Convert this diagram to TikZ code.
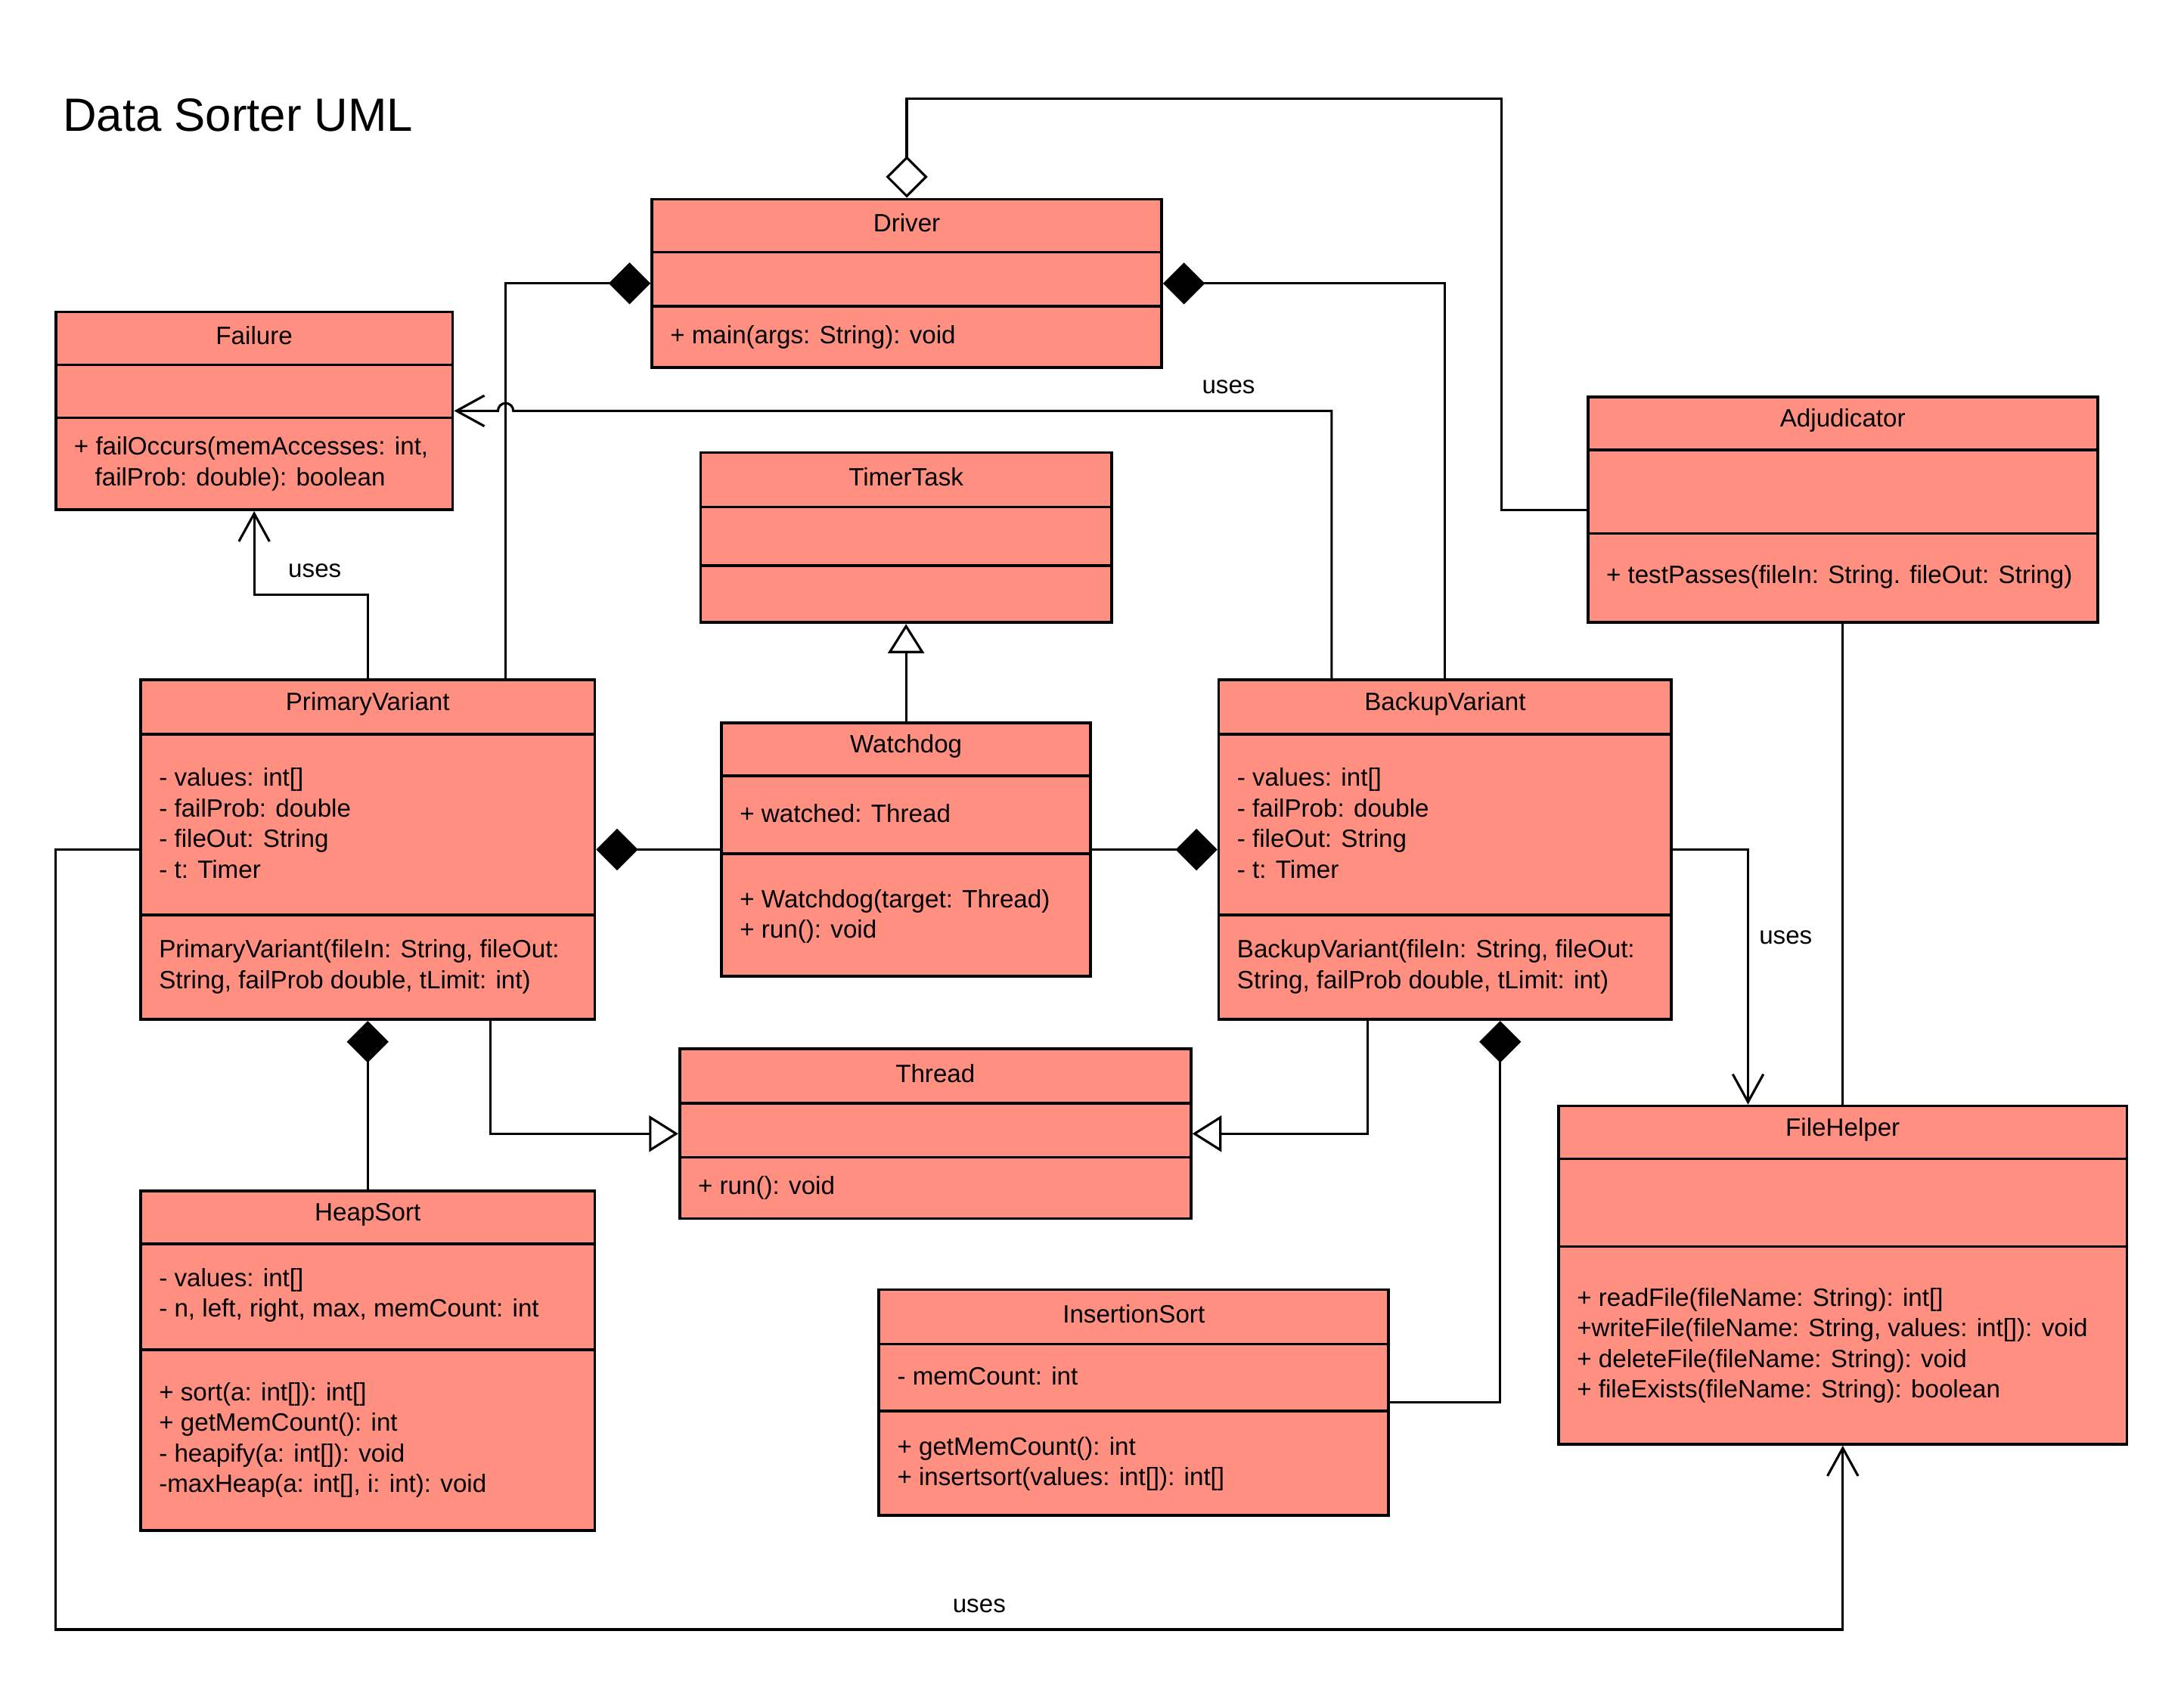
\documentclass[tikz,border=0pt]{standalone}
\usepackage{fontspec}
\setmainfont{Liberation Sans}
\usetikzlibrary{arrows.meta}
\definecolor{classfill}{RGB}{255,143,128}
\tikzset{
  classbox/.style={draw=black, line width=2pt, fill=classfill, rectangle, inner sep=0pt},
  divider/.style={draw=black, line width=2pt},
  conn/.style={draw=black, line width=1.7pt},
  composition/.style={conn, -{Diamond[length=30pt,width=30pt,fill=black]}},
  aggregation/.style={conn, -{Diamond[length=30pt,width=30pt,open,fill=white]}},
  inherit/.style={conn, -{Triangle[length=21pt,width=26pt,open,fill=white]}},
  uses/.style={conn, -{Straight Barb[length=20pt,width=22pt]}},
  bodyfont/.style={font=\fontsize{18}{22}\selectfont},
  classname/.style={bodyfont, inner sep=0pt},
  members/.style={bodyfont, inner sep=0pt, anchor=west, align=left},
  uselabel/.style={bodyfont, inner sep=0pt},
}
% \umlclass{name}{left}{top}{right}{bottom}{divider 1}{divider 2}{class name}
\newcommand\umlclass[8]{%
  \node[classbox, minimum width={#4-#2}, minimum height={#5-#3}] (#1) at ({(#2+#4)/2},{(#3+#5)/2}) {};
  \draw[divider] (#2,#6) -- (#4,#6) (#2,#7) -- (#4,#7);
  \node[classname] (#1-name) at ({(#2+#4)/2},{(#3+#6)/2-2}) {#8};
}
\begin{document}
\begin{tikzpicture}[x=1pt,y=-1pt]
\fill[white] (0,0) rectangle (1568,1211);
\useasboundingbox (0,0) rectangle (1568,1211);

\node[font=\fontsize{33.5}{40}\selectfont, inner sep=0pt, anchor=base west] (title) at (45,94) {Data Sorter UML};

% classes
\umlclass{drv}{468}{143}{834}{264}{181}{220}{Driver}
\node[members] (drv-ops) at (481,242) {+ main(args: String): void};

\umlclass{fail}{40}{224}{325}{366}{262}{300}{Failure}
\node[members] (fail-ops) at (53,333) {+ failOccurs(memAccesses: int,\\\hspace*{15pt}failProb: double): boolean};

\umlclass{tt}{503}{325}{798}{447}{364}{406}{TimerTask}

\umlclass{adj}{1140}{285}{1506}{447}{323}{383}{Adjudicator}
\node[members] (adj-ops) at (1153,414) {+ testPasses(fileIn: String. fileOut: String)};

\umlclass{pv}{101}{488}{427}{732}{527}{657}{PrimaryVariant}
\node[members] (pv-attr) at (114,591) {- values: int[]\\- failProb: double\\- fileOut: String\\- t: Timer};
\node[members] (pv-ops) at (114,694) {PrimaryVariant(fileIn: String, fileOut:\\String, failProb double, tLimit: int)};

\umlclass{wd}{518}{519}{783}{701}{557}{613}{Watchdog}
\node[members] (wd-attr) at (531,584) {+ watched: Thread};
\node[members] (wd-ops) at (531,658) {+ Watchdog(target: Thread)\\+ run(): void};

\umlclass{bv}{875}{488}{1200}{732}{527}{657}{BackupVariant}
\node[members] (bv-attr) at (888,591) {- values: int[]\\- failProb: double\\- fileOut: String\\- t: Timer};
\node[members] (bv-ops) at (888,694) {BackupVariant(fileIn: String, fileOut:\\String, failProb double, tLimit: int)};

\umlclass{thr}{488}{753}{855}{875}{792}{831}{Thread}
\node[members] (thr-ops) at (501,853) {+ run(): void};

\umlclass{hs}{101}{855}{427}{1099}{893}{969}{HeapSort}
\node[members] (hs-attr) at (114,930) {- values: int[]\\- n, left, right, max, memCount: int};
\node[members] (hs-ops) at (114,1034) {+ sort(a: int[]): int[]\\+ getMemCount(): int\\- heapify(a: int[]): void\\-maxHeap(a: int[], i: int): void};

\umlclass{ins}{631}{926}{997}{1088}{965}{1013}{InsertionSort}
\node[members] (ins-attr) at (644,988) {- memCount: int};
\node[members] (ins-ops) at (644,1051) {+ getMemCount(): int\\+ insertsort(values: int[]): int[]};

\umlclass{fh}{1119}{794}{1527}{1037}{832}{895}{FileHelper}
\node[members] (fh-ops) at (1132,966) {+ readFile(fileName: String): int[]\\+writeFile(fileName: String, values: int[]): void\\+ deleteFile(fileName: String): void\\+ fileExists(fileName: String): boolean};

% connector attachment points and bends
\coordinate (adjbend) at (1078,71);
\coordinate (pvdrv) at ([xshift=99pt]pv.north);
\coordinate (bvfail) at ([xshift=-81.5pt]bv.north);
\coordinate (hop) at (pvdrv |- fail.east);
\coordinate (pvthr) at ([xshift=88pt]pv.south);
\coordinate (bvthr) at ([xshift=-55.5pt]bv.south);
\coordinate (bvins) at ([xshift=39.5pt]bv.south);
\coordinate (bvfh) at ([xshift=-68pt]fh.north);
\coordinate (pvfh) at (40,1170);

% relations
\draw[aggregation] (adj.west) -| (adjbend) -| (drv.north);
\draw[composition] (pvdrv) |- (drv.west);
\draw[composition] (bv.north) |- (drv.east);
\draw[uses] (bvfail) |- ([xshift=5.5pt]hop) arc[start angle=0,end angle=180,radius=5.5pt] -- (fail.east);
\draw[uses] (pv.north) -- ++(0,-60) -| (fail.south);
\draw[inherit] (wd.north) -- (tt.south);
\draw[composition] (wd.west) -- (pv.east);
\draw[composition] (wd.east) -- (bv.west);
\draw[inherit] (pvthr) |- (thr.west);
\draw[inherit] (bvthr) |- (thr.east);
\draw[composition] (hs.north) -- (pv.south);
\draw[composition] (ins.east) -| (bvins);
\draw[uses] (bv.east) -| (bvfh);
\draw[conn] (adj.south) -- (fh.north);
\draw[uses] (pv.west) -| (pvfh) -| (fh.south);

% labels
\node[uselabel] (l-bvfail) at (882,278) {uses};
\node[uselabel] (l-pvfail) at (226,410) {uses};
\node[uselabel] (l-bvfh) at (1282,673) {uses};
\node[uselabel] (l-pvfh) at (703,1153) {uses};
\end{tikzpicture}
\end{document}
